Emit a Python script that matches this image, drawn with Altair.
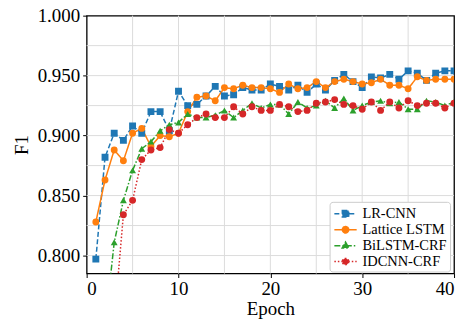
import altair as alt
import pandas as pd

models = ["LR-CNN", "Lattice LSTM", "BiLSTM-CRF", "IDCNN-CRF"]
colors = ["#1f77b4", "#ff7f0e", "#2ca02c", "#d62728"]

lr_epochs = list(range(1, 41))
lr_cnn = [0.797, 0.882, 0.902, 0.896, 0.908, 0.902, 0.920, 0.920, 0.904, 0.937,
          0.925, 0.926, 0.933, 0.941, 0.933, 0.934, 0.940, 0.938, 0.938, 0.943,
          0.941, 0.938, 0.942, 0.936, 0.943, 0.938, 0.946, 0.951, 0.945, 0.940,
          0.949, 0.948, 0.951, 0.947, 0.954, 0.952, 0.946, 0.952, 0.954, 0.954]

lattice_epochs = list(range(1, 41))
lattice = [0.828, 0.863, 0.888, 0.879, 0.902, 0.906, 0.891, 0.900, 0.899, 0.902,
           0.920, 0.932, 0.933, 0.929, 0.940, 0.939, 0.942, 0.940, 0.940, 0.939,
           0.936, 0.943, 0.939, 0.940, 0.945, 0.940, 0.945, 0.947, 0.945, 0.943,
           0.944, 0.947, 0.942, 0.942, 0.939, 0.949, 0.946, 0.947, 0.947, 0.947]

bilstm_epochs = list(range(2, 41))
bilstm = [0.740, 0.811, 0.846, 0.871, 0.889, 0.895, 0.904, 0.909, 0.911,
          0.918, 0.915, 0.915, 0.917, 0.921, 0.915, 0.921, 0.927, 0.923, 0.926,
          0.926, 0.918, 0.928, 0.923, 0.925, 0.929, 0.923, 0.931, 0.921, 0.925,
          0.928, 0.929, 0.927, 0.928, 0.922, 0.922, 0.929, 0.928, 0.925, 0.928]

idcnn_epochs = list(range(3, 41))
idcnn = [0.745, 0.834, 0.846, 0.880, 0.888, 0.890, 0.905, 0.902,
         0.909, 0.915, 0.918, 0.915, 0.915, 0.924, 0.918, 0.924, 0.921, 0.921,
         0.926, 0.924, 0.920, 0.921, 0.927, 0.928, 0.930, 0.926, 0.925, 0.922,
         0.928, 0.921, 0.928, 0.923, 0.929, 0.925, 0.927, 0.927, 0.923, 0.927]

x_ticks = [0, 10, 20, 30, 40]
y_ticks = [0.800, 0.850, 0.900, 0.950, 1.000]
grid_x = [5, 10, 15, 20, 25, 30, 35]
grid_y = [0.800, 0.825, 0.850, 0.875, 0.900, 0.925, 0.950, 0.975]

dashes = [[5, 2.5], [1, 0], [6, 2, 1.5, 2], [1.5, 2]]
marker_shapes = ["square", "circle", "triangle-up", "circle"]

rows = []
for name, eps, vals in [(models[0], lr_epochs, lr_cnn),
                        (models[1], lattice_epochs, lattice),
                        (models[2], bilstm_epochs, bilstm),
                        (models[3], idcnn_epochs, idcnn)]:
    for e, v in zip(eps, vals):
        rows.append({"Model": name, "Epoch": e, "F1": v})
df = pd.DataFrame(rows)

FONT = "Liberation Serif"
x_scale = alt.Scale(domain=[0, 40], nice=False, zero=False)
y_scale = alt.Scale(domain=[0.785, 1.0], nice=False, zero=False)

x_axis = alt.Axis(values=x_ticks, format="d", grid=False, domain=False,
                  tickColor="black", tickSize=4, labelPadding=2,
                  labelFontSize=19, labelColor="black", labelFont=FONT,
                  titleFontSize=19, titleFont=FONT, titleFontWeight="normal",
                  titleColor="black", titlePadding=1)
y_axis = alt.Axis(values=y_ticks, format=".3f", grid=False, domain=False,
                  tickColor="black", tickSize=4, labelPadding=3,
                  labelFontSize=19, labelColor="black", labelFont=FONT,
                  titleFontSize=19, titleFont=FONT, titleFontWeight="normal",
                  titleColor="black", titlePadding=6)


def xenc(field):
    return alt.X(field, scale=x_scale, axis=x_axis, title="Epoch")


def yenc(field):
    return alt.Y(field, scale=y_scale, axis=y_axis, title="F1")


vgrid = alt.Chart(pd.DataFrame({"gx": grid_x})).mark_rule(
    color="#dcdcdc", strokeWidth=1).encode(x=xenc("gx:Q"))
hgrid = alt.Chart(pd.DataFrame({"gy": grid_y})).mark_rule(
    color="#dcdcdc", strokeWidth=1).encode(y=yenc("gy:Q"))

base = alt.Chart(df)
line_layers = []
point_layers = []
for m, c, d, s in zip(models, colors, dashes, marker_shapes):
    sub = base.transform_filter(alt.datum.Model == m)
    line_layers.append(sub.mark_line(strokeWidth=1.5, clip=True, color=c, strokeDash=d).encode(
        x=xenc("Epoch:Q"), y=yenc("F1:Q")))
    point_layers.append(sub.mark_point(filled=True, opacity=1, clip=True, color=c,
                                       shape=s, size=48).encode(
        x=xenc("Epoch:Q"), y=yenc("F1:Q")))

legend_paths = [
    "M-1.4,0H1.4M-0.4,-0.4H0.4V0.4H-0.4Z",
    "M-1.4,0H1.4M0.4,0A0.4,0.4 0 1,1 -0.4,0A0.4,0.4 0 1,1 0.4,0Z",
    "M-1.4,0H1.4M0,-0.45L0.42,0.3H-0.42Z",
    "M-1.4,0H1.4M0.4,0A0.4,0.4 0 1,1 -0.4,0A0.4,0.4 0 1,1 0.4,0Z",
]
leg = alt.Legend(
    orient="none", legendX=244, legendY=187, title=None,
    symbolSize=256, symbolStrokeWidth=1.5, symbolOffset=4, symbolOpacity=1,
    labelFont=FONT, labelFontSize=14.5, labelColor="black",
    labelOffset=8, padding=3, rowPadding=0,
    strokeColor="#cccccc", fillColor="white", cornerRadius=3,
)
legend_layer = base.transform_filter("datum.F1 > 5").mark_point(filled=True).encode(
    shape=alt.Shape("Model:N", scale=alt.Scale(domain=models, range=legend_paths), legend=leg),
    fill=alt.Fill("Model:N", scale=alt.Scale(domain=models, range=colors), legend=leg),
    stroke=alt.Stroke("Model:N", scale=alt.Scale(domain=models, range=colors), legend=leg),
    strokeDash=alt.StrokeDash("Model:N", scale=alt.Scale(domain=models, range=dashes), legend=leg),
)

chart = alt.layer(hgrid, vgrid, *line_layers, *point_layers, legend_layer).properties(
    width=369, height=259,
    autosize=alt.AutoSizeParams(type="none"),
    padding={"left": 79, "top": 7, "right": 10, "bottom": 48},
).configure_view(stroke="black", strokeWidth=1.3)

chart.save("out.html", embed_options={"renderer": "svg", "actions": False})
